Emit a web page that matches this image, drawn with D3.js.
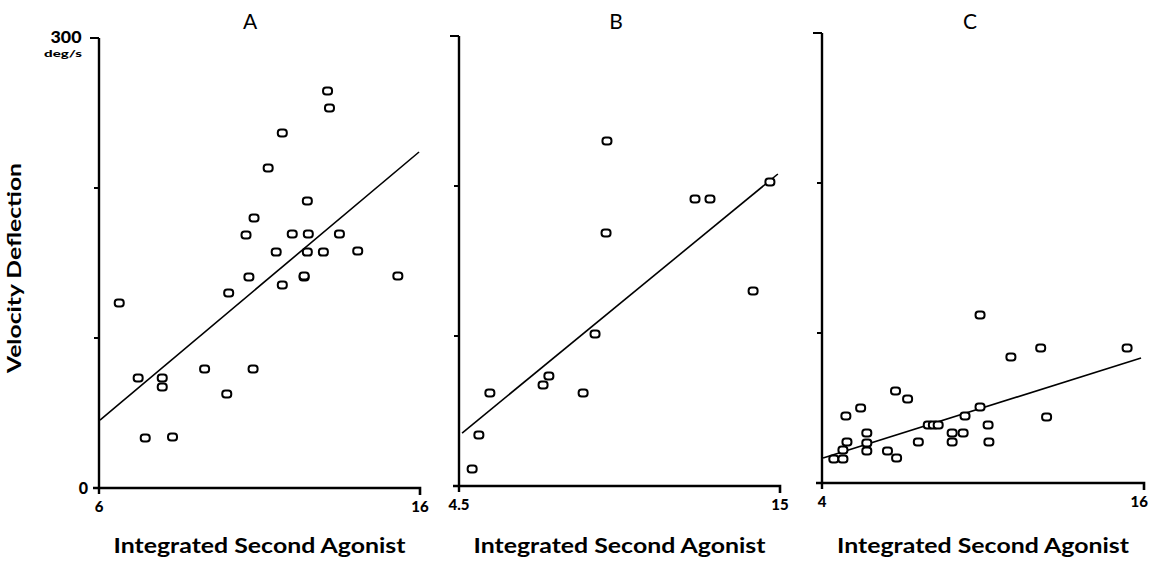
<!DOCTYPE html>
<html>
<head>
<meta charset="utf-8">
<script src="https://cdn.jsdelivr.net/npm/d3@7"></script>
<style>
  html, body { margin: 0; padding: 0; background: #fff; }
  svg { display: block; }
  text { font-family: Lato, "Liberation Sans", Arial, sans-serif; fill: #000; }
</style>
</head>
<body>
<svg id="chart" width="1149" height="561"></svg>
<script>
// Velocity deflection (deg/s) against integrated second-agonist activity, three subjects.
const panelTitles = ["A", "B", "C"];
const xTickLabels = [["6", "16"], ["4.5", "15"], ["4", "16"]];
const xDomains = [[6, 16], [4.5, 15], [4, 16]];
const yTickValues = [0, 100, 200, 300];

// Panel A
const xA = [13.12, 13.18, 11.71, 11.27, 12.49, 10.83, 10.58, 12.02, 12.52, 13.49,
            11.52, 12.49, 12.99, 14.06, 10.67, 12.39, 12.39, 11.71, 15.31, 10.04,
            6.63, 9.29, 10.80, 7.22, 7.97, 7.97, 9.98, 7.44, 8.29];
const yA = [264.7, 253.3, 236.7, 213.3, 191.3, 180, 168.7, 169.3, 169.3, 169.3,
            157.3, 157.3, 157.3, 158, 140.7, 140.7, 141.3, 135.3, 141.3, 130,
            123.3, 79.3, 79.3, 73.3, 73.3, 67.3, 62.7, 33.3, 34];
const fitA = [[6.03, 45.3], [15.97, 224]];

// Panel B
const xB = [9.34, 9.31, 12.22, 12.71, 14.67, 14.12, 8.95, 7.44, 7.25, 8.56, 5.51, 5.15, 4.93];
const yB = [230, 168.7, 191.3, 191.3, 202.7, 130, 101.3, 73.3, 67.3, 62, 62, 34, 11.3];
const fitB = [[4.6, 35.3], [14.93, 208]];

// Panel C
const xC = [9.89, 12.15, 15.37, 11.04, 6.74, 7.19, 5.44, 4.89, 9.33, 9.89,
            12.37, 10.19, 7.96, 8.15, 8.33, 7.59, 8.85, 9.26, 8.85, 10.22,
            5.67, 5.67, 5.67, 4.93, 4.78, 6.44, 6.78, 4.44, 4.78];
const yC = [112, 90, 90, 84, 61.3, 56, 50, 44.7, 44.7, 50.7,
            44, 38.7, 38.7, 38.7, 38.7, 27.3, 33.3, 33.3, 27.3, 27.3,
            33.3, 26.7, 21.3, 27.3, 22, 21.3, 16.7, 16, 16];
const fitC = [[4.04, 16.7], [15.89, 83.3]];

const xs = [xA, xB, xC];
const ys = [yA, yB, yC];
const fits = [fitA, fitB, fitC];

// Plot frames (pixel extents) of the three panels
const frames = [
  { left: 99,  right: 420,  bottom: 488, top: 38, title: [250, 29] },
  { left: 459, right: 780,  bottom: 486, top: 36, title: [616, 29] },
  { left: 822, right: 1144, bottom: 483, top: 33, title: [970, 29] }
];

const svg = d3.select("#chart");

frames.forEach((f, i) => {
  const x = d3.scaleLinear().domain(xDomains[i]).range([f.left, f.right]);
  const y = d3.scaleLinear().domain([0, 300]).range([f.bottom, f.top]);
  const g = svg.append("g");

  // y axis
  g.append("line")
    .attr("x1", f.left).attr("x2", f.left)
    .attr("y1", y(300)).attr("y2", f.bottom + 6)
    .attr("stroke", "#000").attr("stroke-width", 2.4);
  g.selectAll("line.ytick").data(yTickValues.slice(1)).join("line")
    .attr("class", "ytick")
    .attr("x1", d => d === 300 ? f.left - 9 : f.left - 5).attr("x2", f.left)
    .attr("y1", d => y(d)).attr("y2", d => y(d))
    .attr("stroke", "#000").attr("stroke-width", 2);

  // x axis with down-turned right end
  g.append("path")
    .attr("d", d3.line()([[f.left - 6, f.bottom], [x(xDomains[i][1]), f.bottom], [x(xDomains[i][1]), f.bottom + 7]]))
    .attr("fill", "none").attr("stroke", "#000").attr("stroke-width", 2.6);

  // x tick labels at the ends of the axis (last one kept inside the page)
  g.selectAll("text.xtick").data(xDomains[i]).join("text")
    .attr("class", "xtick")
    .attr("x", (d, k) => (i === 2 && k === 1) ? 1148 : x(d)).attr("y", f.bottom + 24)
    .attr("text-anchor", (d, k) => (i === 2 && k === 1) ? "end" : "middle")
    .attr("font-size", 15).attr("font-weight", 900)
    .text((d, k) => xTickLabels[i][k]);

  // x axis title
  g.append("text")
    .attr("x", (f.left + f.right) / 2).attr("y", 553)
    .attr("text-anchor", "middle")
    .attr("font-size", 20).attr("font-weight", "bold")
    .attr("textLength", 292).attr("lengthAdjust", "spacingAndGlyphs")
    .text("Integrated Second Agonist");

  // panel letter
  g.append("text")
    .attr("x", f.title[0]).attr("y", f.title[1])
    .attr("text-anchor", "middle")
    .attr("font-size", 21)
    .text(panelTitles[i]);

  // regression line
  g.append("path")
    .attr("d", d3.line().x(d => x(d[0])).y(d => y(d[1]))(fits[i]))
    .attr("fill", "none").attr("stroke", "#000").attr("stroke-width", 1.6);

  // data points: small open rounded boxes
  const pts = xs[i].map((v, k) => [v, ys[i][k]]);
  g.selectAll("rect.pt").data(pts).join("rect")
    .attr("class", "pt")
    .attr("x", d => x(d[0]) - 4.5).attr("y", d => y(d[1]) - 3.5)
    .attr("width", 9).attr("height", 7).attr("rx", 3).attr("ry", 3)
    .attr("fill", "#fff").attr("stroke", "#000").attr("stroke-width", 2);

  if (i === 0) {
    // y-axis end labels of the first panel
    g.append("text")
      .attr("x", f.left - 11).attr("y", y(0) + 6)
      .attr("text-anchor", "end")
      .attr("font-size", 16).attr("font-weight", 900)
      .text("0");
    g.append("text")
      .attr("x", 66).attr("y", y(300) + 5)
      .attr("text-anchor", "middle")
      .attr("font-size", 16).attr("font-weight", 900)
      .attr("textLength", 31).attr("lengthAdjust", "spacingAndGlyphs")
      .text("300");
    g.append("text")
      .attr("x", 63).attr("y", y(300) + 19)
      .attr("text-anchor", "middle")
      .attr("font-size", 9).attr("font-weight", 900)
      .attr("textLength", 38).attr("lengthAdjust", "spacingAndGlyphs")
      .text("deg/s");
  }
});

// y axis title
svg.append("text")
  .attr("transform", "translate(21,268) rotate(-90)")
  .attr("text-anchor", "middle")
  .attr("font-size", 19).attr("font-weight", "bold")
  .attr("textLength", 210).attr("lengthAdjust", "spacingAndGlyphs")
  .text("Velocity Deflection");
</script>
</body>
</html>
